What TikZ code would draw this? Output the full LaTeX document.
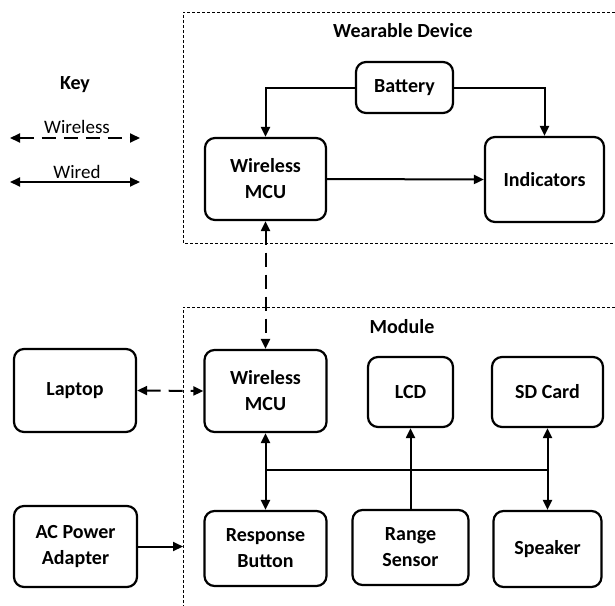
\documentclass[tikz,border=0pt]{standalone}
\usepackage{fontspec}
\setmainfont{Carlito}
\usetikzlibrary{arrows.meta}
\begin{document}
\begin{tikzpicture}[x=1pt,y=-1pt,
  >={Triangle[length=10pt,width=9pt]},
  block/.style={draw, line width=2.2pt, rounded corners=10pt, align=center,
    inner sep=0pt, font=\bfseries\fontsize{20}{26}\selectfont},
  title/.style={font=\bfseries\fontsize{20}{24}\selectfont, inner sep=0pt},
  keytext/.style={font=\fontsize{19}{22}\selectfont, inner sep=0pt},
  wire/.style={line width=2pt},
  radio/.style={line width=2pt, dash pattern=on 14pt off 8pt},
  group/.style={line width=0.9pt, dash pattern=on 3pt off 2pt}]
\useasboundingbox (0,0) rectangle (615,605);

% dashed enclosures (open on the right and bottom edge)
\draw[group] (620,12) -- (183,12) -- (183,243) -- (620,243);
\draw[group] (620,307) -- (183,307) -- (183,610);
\node[title] (wtitle) at (403,31) {Wearable Device};
\node[title] (mtitle) at (402,327) {Module};

% key
\node[title] (key) at (75,85) {Key};
\node[keytext] (kwl) at (77,127) {Wireless};
\node[keytext] (kwd) at (77,172) {Wired};
\coordinate (kwlA) at (10,138);
\coordinate (kwlB) at (140,138);
\coordinate (kwdA) at (10,182);
\coordinate (kwdB) at (140,182);
\draw[radio,<->] (kwlA) -- (kwlB);
\draw[wire,<->] (kwdA) -- (kwdB);

% wearable device
\node[block, minimum width=97pt, minimum height=51pt] (battery) at (404.5,87.5) {Battery};
\node[block, minimum width=121pt, minimum height=82pt] (mcuTop) at (265.5,179) {Wireless\\MCU};
\node[block, minimum width=119pt, minimum height=85pt] (ind) at (544.5,179.5) {Indicators};

% module and its peripherals
\node[block, minimum width=122pt, minimum height=83pt] (laptop) at (75,390.5) {Laptop};
\node[block, minimum width=122pt, minimum height=82pt] (mcuBot) at (265.5,391) {Wireless\\MCU};
\node[block, minimum width=85pt, minimum height=70pt] (lcd) at (410.5,392) {LCD};
\node[block, minimum width=111pt, minimum height=70pt] (sd) at (547.5,392) {SD Card};
\node[block, minimum width=123pt, minimum height=81pt] (ac) at (75.5,546.5) {AC Power\\Adapter};
\node[block, minimum width=122pt, minimum height=75pt] (resp) at (265.5,548.5) {Response\\Button};
\node[block, minimum width=116pt, minimum height=75pt] (range) at (410.5,547.5) {Range\\Sensor};
\node[block, minimum width=108pt, minimum height=76pt] (spk) at (547.5,549) {Speaker};

% connectors
\draw[wire,->] (battery.west) -| (mcuTop.north);
\draw[wire,->] (battery.east) -| (ind.north);
\draw[wire,->] (mcuTop.east) -- (ind.west);
\draw[radio,<->] (mcuTop.south) -- (mcuBot.north);
\draw[radio,<->] (laptop.east) -- (mcuBot.west);
\coordinate (modIn) at (183,546.5);
\draw[wire,->] (ac.east) -- (modIn);
\coordinate (busL) at (265.5,470);
\coordinate (busR) at (547.5,470);
\draw[wire,<->] (mcuBot.south) -- (resp.north);
\draw[wire,<->] (sd.south) -- (spk.north);
\draw[wire] (busL) -- (busR);
\draw[wire,->] (range.north) -- (lcd.south);
\end{tikzpicture}
\end{document}
